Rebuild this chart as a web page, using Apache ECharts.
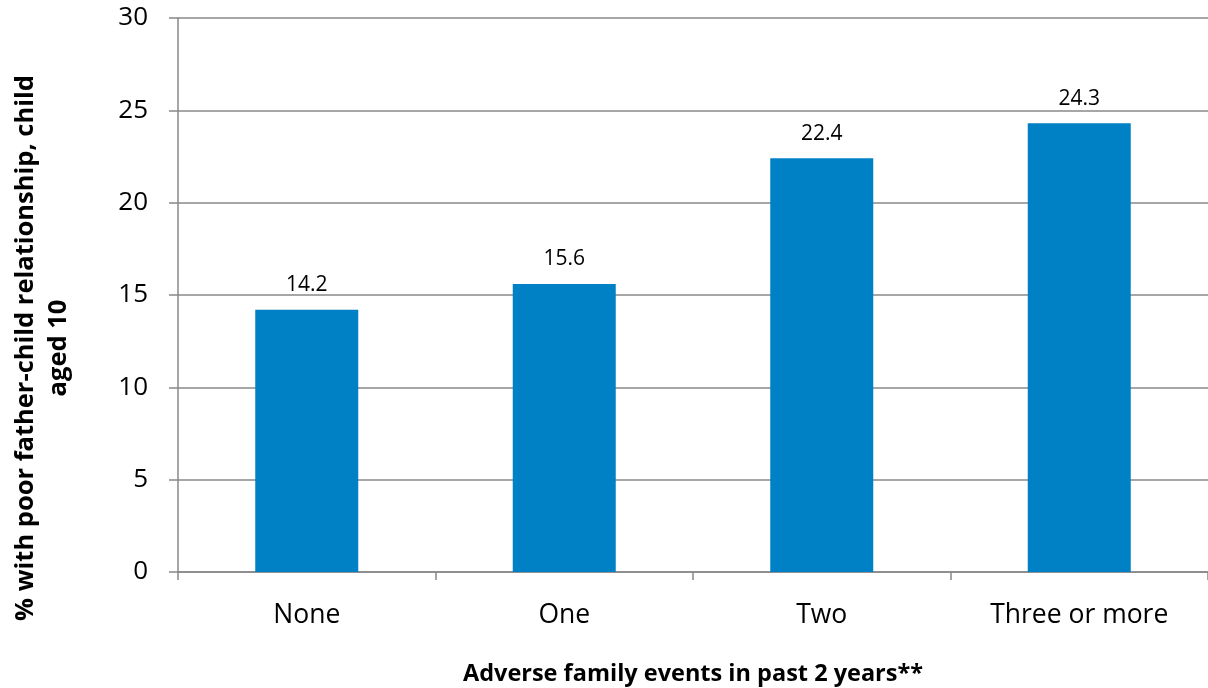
<!DOCTYPE html>
<html><head><meta charset="utf-8">
<script src="https://cdn.jsdelivr.net/npm/echarts@6/dist/echarts.min.js"></script>
<style>html,body{margin:0;padding:0;background:#fff}#c{width:1208px;height:688px}</style>
</head><body><div id="c"></div>
<script>
const categories = ['None', 'One', 'Two', 'Three or more'];
const values = [14.2, 15.6, 22.4, 24.3];
const yTicks = [0, 5, 10, 15, 20, 25, 30];

const chart = echarts.init(document.getElementById('c'), null, {renderer: 'canvas'});
const font = '"Open Sans", "Liberation Sans", sans-serif';
chart.setOption({
  animation: false,
  grid: {left: 178, right: 0, top: 18, bottom: 116, outerBoundsMode: 'none', containLabel: false},
  xAxis: {
    type: 'category',
    data: categories,
    name: 'Adverse family events in past 2 years**',
    nameLocation: 'middle',
    nameGap: 90,
    nameTextStyle: {fontFamily: font, fontSize: 23.5, fontWeight: 'bold', color: '#000'},
    axisLine: {lineStyle: {color: '#888', width: 1.5}},
    axisTick: {show: true, length: 8, alignWithLabel: false, lineStyle: {color: '#888', width: 1.5}},
    axisLabel: {fontFamily: font, fontSize: 26.5, color: '#000', margin: 30}
  },
  yAxis: {
    type: 'value',
    min: yTicks[0], max: yTicks[yTicks.length - 1], interval: 5,
    axisLine: {show: true, lineStyle: {color: '#888', width: 1.5}},
    axisTick: {show: true, length: 9, lineStyle: {color: '#888', width: 1.5}},
    splitLine: {lineStyle: {color: '#888', width: 1.5}},
    axisLabel: {fontFamily: font, fontSize: 26, color: '#000', margin: 30}
  },
  graphic: [{
    type: 'text',
    x: 42, y: 348,
    rotation: Math.PI / 2,
    style: {
      text: '% with poor father-child relationship, child\naged 10',
      fontFamily: font, fontSize: 25.5, fontWeight: 'bold', fill: '#000',
      align: 'center', verticalAlign: 'middle', lineHeight: 33
    }
  }],
  series: [{
    type: 'bar',
    data: values,
    barWidth: '40%',
    itemStyle: {color: '#0081C6'},
    label: {show: true, position: 'top', distance: 14, fontFamily: font, fontSize: 21, color: '#000',
      formatter: p => p.value.toFixed(1)}
  }]
});
</script></body></html>
